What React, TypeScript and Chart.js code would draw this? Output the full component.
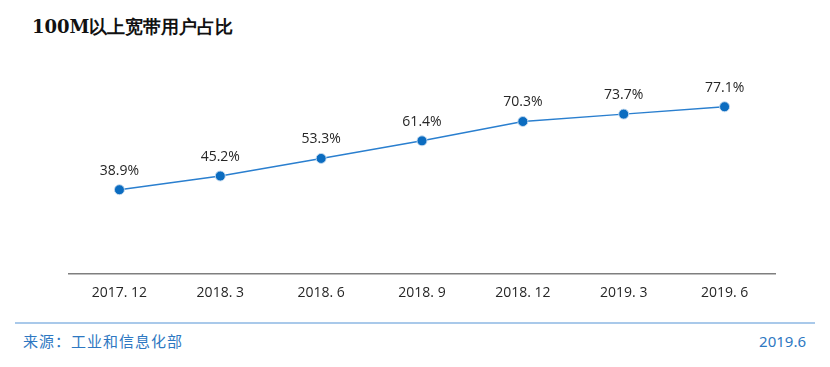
import React, { useEffect, useRef } from "react";
import { Chart, registerables } from "chart.js";

Chart.register(...registerables);

const categories = ["2017. 12", "2018. 3", "2018. 6", "2018. 9", "2018. 12", "2019. 3", "2019. 6"];
const shareValues = [38.9, 45.2, 53.3, 61.4, 70.3, 73.7, 77.1];
const titleText = "100M以上宽带用户占比";
const sourceText = "来源：工业和信息化部";
const dateText = "2019.6";

const labelPlugin = {
  id: "pointLabels",
  afterDatasetsDraw(chart: any) {
    const ctx = chart.ctx;
    const meta = chart.getDatasetMeta(0);
    ctx.save();
    ctx.font = "14px 'Open Sans', 'Noto Sans', sans-serif";
    ctx.fillStyle = "#262626";
    ctx.textAlign = "center";
    ctx.textBaseline = "bottom";
    meta.data.forEach((pt: any, i: number) => {
      ctx.fillText(shareValues[i].toFixed(1) + "%", pt.x, pt.y - 12);
    });
    ctx.restore();
  },
};

export default function App() {
  const ref = useRef<HTMLCanvasElement>(null);
  useEffect(() => {
    document.body.style.margin = "0";
    const chart = new Chart(ref.current!, {
      type: "line",
      data: {
        labels: categories,
        datasets: [
          {
            data: shareValues,
            borderColor: "#2a7fcf",
            borderWidth: 1.5,
            pointBackgroundColor: "#0b6cc0",
            pointBorderColor: "rgba(200,220,240,0.9)",
            pointBorderWidth: 1,
            pointRadius: 5,
            tension: 0,
          },
        ],
      },
      options: {
        animation: false,
        responsive: false,
        layout: { padding: { left: 69, right: 55, top: 57, bottom: 9 } },
        plugins: { legend: { display: false }, tooltip: { enabled: false } },
        scales: {
          x: {
            offset: true,
            grid: { display: false, drawTicks: false },
            border: { display: true, color: "#7f7f7f", width: 1.5 },
            ticks: {
              padding: 10,
              color: "#262626",
              font: { size: 14, family: "'Open Sans', 'Noto Sans', sans-serif" },
            },
          },
          y: { display: false, min: 0, max: 100 },
        },
      },
      plugins: [labelPlugin],
    });
    return () => chart.destroy();
  }, []);
  return (
    <div style={{ position: "relative", width: 830, height: 367, background: "#fff", overflow: "hidden" }}>
      <div
        style={{
          position: "absolute",
          left: 32,
          top: 15,
          fontFamily: "'DejaVu Serif', 'Liberation Serif', serif",
          fontWeight: "bold",
          fontSize: 18,
          color: "#111",
          lineHeight: "24px",
        }}
      >
        {titleText}
      </div>
      <canvas ref={ref} width={830} height={320} style={{ position: "absolute", left: 0, top: 0 }} />
      <div style={{ position: "absolute", left: 15, top: 322, width: 800, height: 2, background: "#a9c9ea" }} />
      <div
        style={{
          position: "absolute",
          left: 23,
          top: 331,
          fontFamily: "'Noto Sans CJK SC', sans-serif",
          fontSize: 15,
          letterSpacing: 1,
          color: "#2e78c2",
          lineHeight: "20px",
        }}
      >
        {sourceText}
      </div>
      <div
        style={{
          position: "absolute",
          right: 24,
          top: 331,
          fontFamily: "'Noto Sans', sans-serif",
          fontSize: 15,
          color: "#2e78c2",
          lineHeight: "20px",
        }}
      >
        {dateText}
      </div>
    </div>
  );
}
